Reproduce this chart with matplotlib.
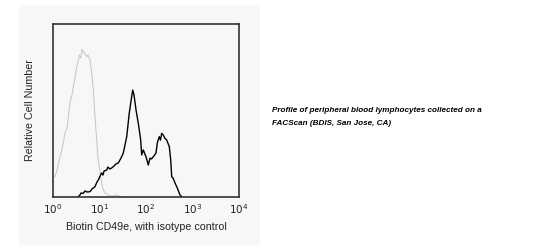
import matplotlib

matplotlib.use("Agg")
import matplotlib.pyplot as plt  # noqa: E402

plt.rcParams["font.family"] = ["Liberation Sans", "DejaVu Sans"]

# isotype control (grey trace): fluorescence intensity vs relative count
iso_x = [1.10, 1.22, 1.41, 1.56, 1.81, 2.00, 2.32, 2.56, 2.73, 2.97, 3.23, 3.45,
         3.68, 4.00, 4.20, 4.48, 4.88, 5.31, 5.66, 6.25, 6.80, 7.36, 8.00, 8.71,
         9.29, 9.90, 11.1, 11.9, 13.1, 16.8, 19.5, 23.8, 27.6]
iso_y = [11.7, 15.6, 23.3, 27.2, 37.0, 39.9, 54.3, 59.0, 63.8, 68.8, 75.3, 78.0,
         82.1, 80.3, 85.5, 84.0, 82.7, 81.1, 82.1, 79.2, 71.7, 61.8, 46.4, 32.9,
         22.5, 17.5, 8.1, 4.6, 2.3, 0.6, 0.6, 1.2, 0.3]

# Biotin CD49e stained (black trace)
cd_x = [3.50, 3.81, 4.00, 4.48, 4.88, 5.39, 6.25, 6.90, 8.00, 8.84, 9.42, 10.3,
        11.1, 11.9, 12.5, 14.3, 15.2, 16.8, 18.3, 20.5, 22.6, 25.4, 29.0, 32.5,
        38.5, 43.7, 49.2, 51.8, 55.2, 61.0, 68.3, 76.9, 80.8, 87.5, 92.9, 100,
        112, 122, 131, 144, 164, 175, 193, 205, 217, 235, 256, 279, 317, 340,
        357, 381, 421, 471, 538, 586]
cd_y = [0.2, 1.2, 2.3, 2.1, 3.5, 2.9, 3.1, 4.6, 6.0, 8.7, 9.8, 12.1,
        13.9, 12.7, 15.0, 15.6, 17.3, 16.2, 16.8, 17.9, 19.1, 19.7, 22.5, 25.4,
        34.9, 48.6, 58.0, 61.8, 59.0, 50.3, 42.6, 32.9, 24.3, 27.2, 25.4, 23.3,
        18.5, 22.5, 22.0, 23.3, 25.4, 31.2, 34.9, 32.9, 36.8, 35.8, 33.9, 32.9,
        29.1, 21.4, 11.7, 11.0, 8.1, 5.2, 1.2, 0.2]

decades = [1, 10, 100, 1000, 10000]
decade_labels = [r"$10^{0}$", r"$10^{1}$", r"$10^{2}$", r"$10^{3}$", r"$10^{4}$"]

W, H = 551, 248
fig = plt.figure(figsize=(W / 100, H / 100), dpi=100)
fig.patch.set_facecolor("white")

# light grey panel behind the histogram (plain background axes)
bg = fig.add_axes([19 / W, 1 - 245 / H, 241 / W, 240 / H], zorder=-1)
bg.set_facecolor("#f7f7f7")
bg.set_xticks([])
bg.set_yticks([])
for sp in bg.spines.values():
    sp.set_visible(False)

ax = fig.add_axes([53 / W, 1 - 197 / H, 186 / W, 173 / H])
ax.set_facecolor("#f7f7f7")
ax.plot(iso_x, iso_y, color="#c4c4c4", lw=0.7)
ax.plot(cd_x, cd_y, color="black", lw=1.0)
ax.set_xscale("log")
ax.set_xlim(1, 10000)
ax.set_ylim(0, 100)
ax.set_xticks(decades)
ax.set_xticklabels(decade_labels, fontsize=7.5, color="#222222")
ax.minorticks_off()
ax.set_yticks([])
ax.tick_params(axis="x", length=0, pad=3.5)
for sp in ax.spines.values():
    sp.set_color("#333333")
    sp.set_linewidth(1.2)
ax.set_xlabel("Biotin CD49e, with isotype control", fontsize=7.7, labelpad=4.5,
              color="#222222")
ax.set_ylabel("Relative Cell Number", fontsize=7.7, labelpad=13, color="#222222")

fig.text(272 / W, 1 - 111 / H, "Profile of peripheral blood lymphocytes collected on a",
         fontsize=5.9, fontweight="bold", fontstyle="italic", va="center", ha="left")
fig.text(272 / W, 1 - 123.5 / H, "FACScan (BDIS, San Jose, CA)",
         fontsize=5.9, fontweight="bold", fontstyle="italic", va="center", ha="left")

fig.savefig("out.png", dpi=100)
